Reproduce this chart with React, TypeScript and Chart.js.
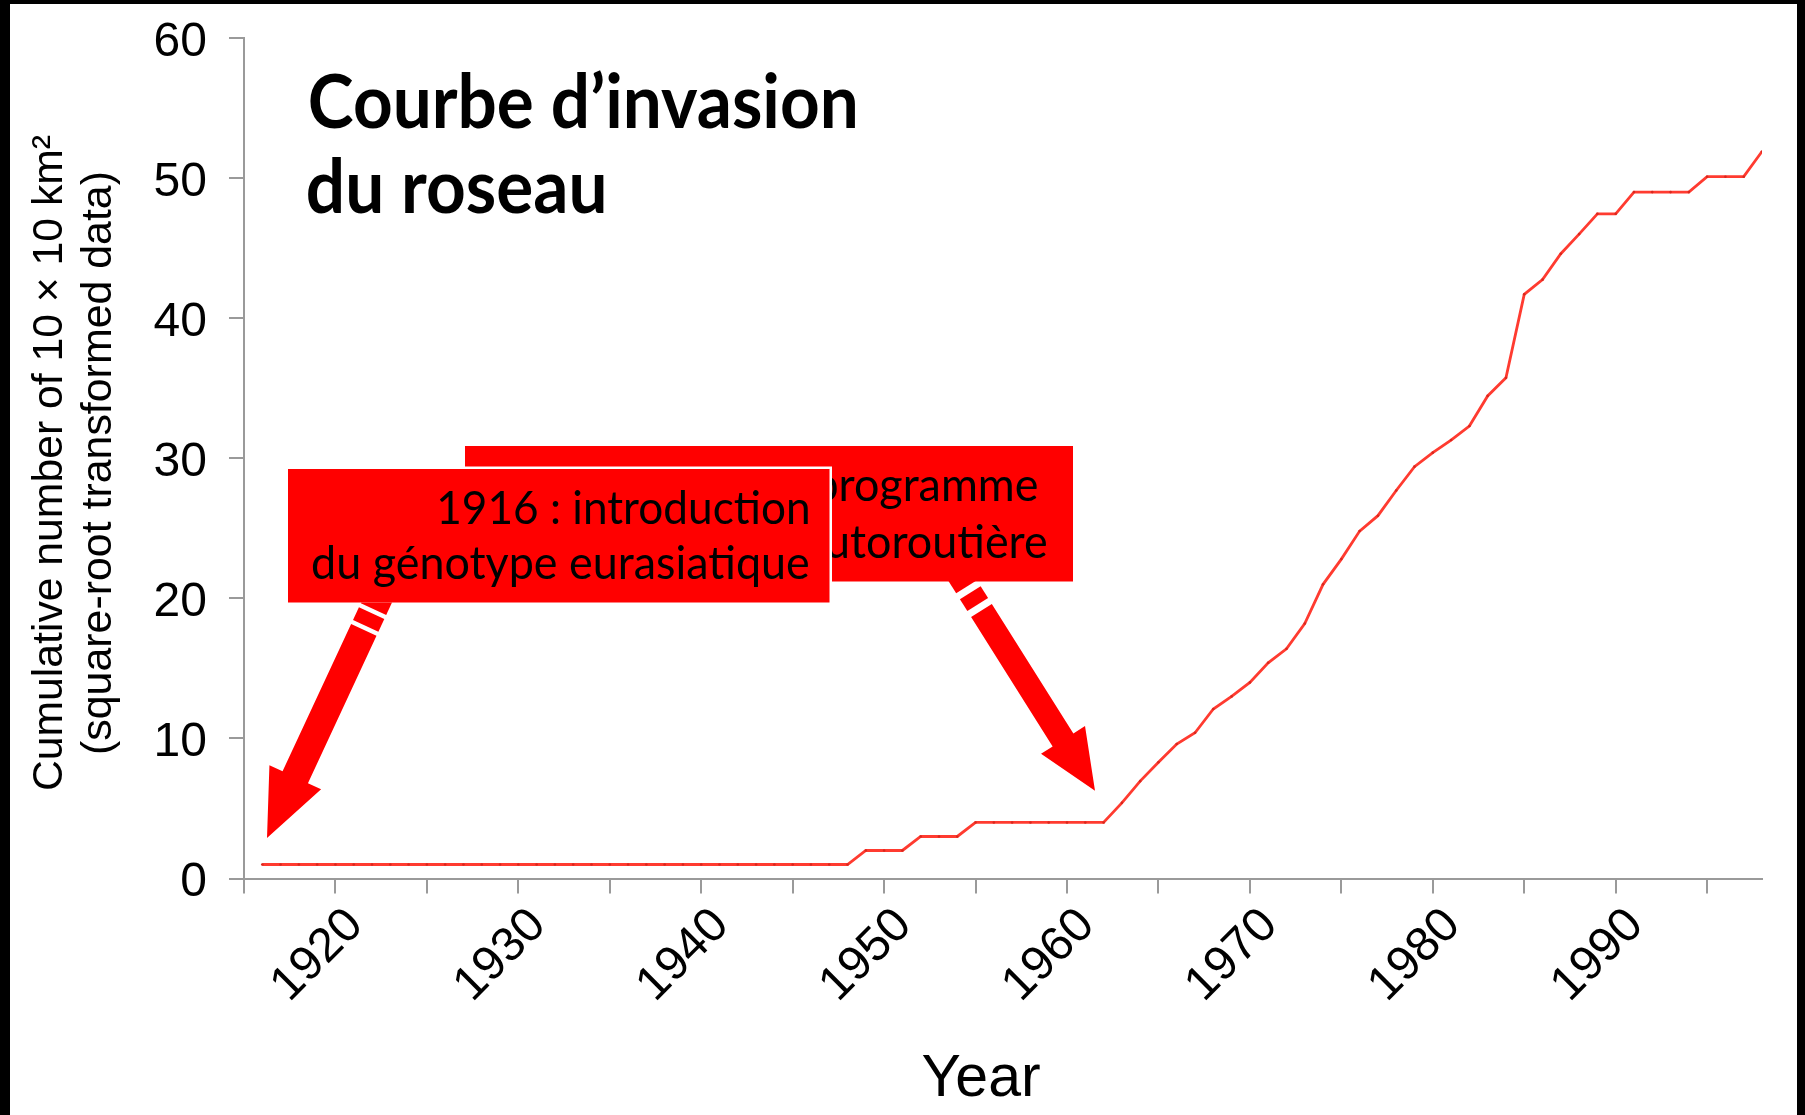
import React, { useEffect, useRef } from 'react';
import { Chart, registerables } from 'chart.js';

Chart.register(...registerables);

// ---------- data ----------
const years = [
  1916, 1917, 1918, 1919, 1920, 1921, 1922, 1923, 1924, 1925,
  1926, 1927, 1928, 1929, 1930, 1931, 1932, 1933, 1934, 1935,
  1936, 1937, 1938, 1939, 1940, 1941, 1942, 1943, 1944, 1945,
  1946, 1947, 1948, 1949, 1950, 1951, 1952, 1953, 1954, 1955,
  1956, 1957, 1958, 1959, 1960, 1961, 1962, 1963, 1964, 1965,
  1966, 1967, 1968, 1969, 1970, 1971, 1972, 1973, 1974, 1975,
  1976, 1977, 1978, 1979, 1980, 1981, 1982, 1983, 1984, 1985,
  1986, 1987, 1988, 1989, 1990, 1991, 1992, 1993, 1994, 1995,
  1996, 1997, 1998,
];

const cumulativeSqrt = [
  1, 1, 1, 1, 1, 1, 1, 1, 1, 1,
  1, 1, 1, 1, 1, 1, 1, 1, 1, 1,
  1, 1, 1, 1, 1, 1, 1, 1, 1, 1,
  1, 1, 1, 2, 2, 2, 3, 3, 3, 4,
  4, 4, 4, 4, 4, 4, 4, 5.4, 6.95, 8.3,
  9.6, 10.4, 12.1, 13.0, 14.0, 15.4, 16.4, 18.2, 21.0, 22.8,
  24.8, 25.9, 27.7, 29.4, 30.4, 31.3, 32.3, 34.45, 35.75, 41.7,
  42.75, 44.6, 46.0, 47.45, 47.45, 49.0, 49.0, 49.0, 49.0, 50.1,
  50.1, 50.1, 51.9,
];

const xTickLabels = ['1920', '1930', '1940', '1950', '1960', '1970', '1980', '1990'];
const yTickLabels = ['0', '10', '20', '30', '40', '50', '60'];

const titleLines = ['Courbe d\u2019invasion', 'du roseau'];
const yAxisTitle = ['Cumulative number of 10 \u00d7 10 km\u00b2', '(square-root transformed data)'];
const xAxisTitle = 'Year';
const note1916 = ['1916 : introduction', 'du g\u00e9notype eurasiatique'];
const note1962 = ['1962 : d\u00e9but du programme', 'de construction autorouti\u00e8re'];

// ---------- layout helpers (full-image coordinates) ----------
const OX = 10;
const OY = 4;
const ARIAL = '"Liberation Sans", Arial, Helvetica, sans-serif';
const CALIBRI = 'Lato, "Open Sans", sans-serif';

function inkFit(ctx: CanvasRenderingContext2D, text: string, font: string, left: number, right: number, baseline: number) {
  ctx.font = font;
  ctx.textAlign = 'left';
  ctx.textBaseline = 'alphabetic';
  const m = ctx.measureText(text);
  const inkL = -m.actualBoundingBoxLeft;
  const inkR = m.actualBoundingBoxRight;
  const s = (right - left) / (inkR - inkL);
  ctx.save();
  ctx.translate(left - inkL * s, baseline);
  ctx.scale(s, 1);
  ctx.fillText(text, 0, 0);
  ctx.restore();
  return s;
}

function inkRight(ctx: CanvasRenderingContext2D, text: string, font: string, right: number, baseline: number, s: number) {
  ctx.font = font;
  ctx.textAlign = 'left';
  ctx.textBaseline = 'alphabetic';
  const m = ctx.measureText(text);
  const inkR = m.actualBoundingBoxRight;
  ctx.save();
  ctx.translate(right - inkR * s, baseline);
  ctx.scale(s, 1);
  ctx.fillText(text, 0, 0);
  ctx.restore();
}

// centred text drawn along the current x direction, squeezed/stretched to a given length
function centredFit(ctx: CanvasRenderingContext2D, text: string, font: string, length: number, y: number) {
  ctx.font = font;
  ctx.textAlign = 'center';
  ctx.textBaseline = 'alphabetic';
  const w = ctx.measureText(text).width;
  const s = length / w;
  ctx.save();
  ctx.scale(s, 1);
  ctx.fillText(text, 0, y);
  ctx.restore();
}

function stripedArrow(
  ctx: CanvasRenderingContext2D,
  tip: [number, number],
  dir: [number, number],
  shaftW: number,
  headW: number,
  headL: number,
  mainLen: number,
  segs: [number, number][],
) {
  const len = Math.hypot(dir[0], dir[1]);
  const ux = dir[0] / len;
  const uy = dir[1] / len;
  const nx = -uy;
  const ny = ux;
  const at = (d: number, w: number): [number, number] => [tip[0] - ux * d + nx * w, tip[1] - uy * d + ny * w];
  ctx.fillStyle = '#ff0000';
  const pts = [
    at(0, 0),
    at(headL, headW / 2),
    at(headL, shaftW / 2),
    at(mainLen, shaftW / 2),
    at(mainLen, -shaftW / 2),
    at(headL, -shaftW / 2),
    at(headL, -headW / 2),
  ];
  ctx.beginPath();
  pts.forEach((p, i) => (i === 0 ? ctx.moveTo(p[0], p[1]) : ctx.lineTo(p[0], p[1])));
  ctx.closePath();
  ctx.fill();
  segs.forEach(([d0, d1]) => {
    const q = [at(d0, shaftW / 2), at(d1, shaftW / 2), at(d1, -shaftW / 2), at(d0, -shaftW / 2)];
    ctx.beginPath();
    q.forEach((p, i) => (i === 0 ? ctx.moveTo(p[0], p[1]) : ctx.lineTo(p[0], p[1])));
    ctx.closePath();
    ctx.fill();
  });
}

const annotationPlugin = {
  id: 'slideAnnotations',
  afterDraw(chart: any) {
    const ctx: CanvasRenderingContext2D = chart.ctx;
    ctx.save();
    ctx.translate(-OX, -OY);

    // title
    ctx.fillStyle = '#000';
    inkFit(ctx, titleLines[0], `bold 74px ${CALIBRI}`, 309.7, 855.3, 128.3);
    inkFit(ctx, titleLines[1], `bold 74px ${CALIBRI}`, 307.7, 604, 213);

    // y axis title (rotated)
    ctx.fillStyle = '#000';
    ctx.save();
    ctx.translate(0, 463);
    ctx.rotate(-Math.PI / 2);
    centredFit(ctx, yAxisTitle[0], `42px ${ARIAL}`, 656, 62);
    centredFit(ctx, yAxisTitle[1], `42px ${ARIAL}`, 584, 111);
    ctx.restore();

    // x axis title
    ctx.font = `59px ${ARIAL}`;
    ctx.textAlign = 'center';
    ctx.textBaseline = 'alphabetic';
    ctx.fillText(xAxisTitle, 981, 1096);

    // arrows
    stripedArrow(ctx, [1095, 790.7], [0.533, 0.846], 24.5, 52, 60, 213, [[220, 234], [241, 262]]);
    stripedArrow(ctx, [267, 838], [-0.422, 0.907], 28, 57, 67, 229.5, [[234, 248], [252.5, 275]]);

    // back box (1962)
    ctx.fillStyle = '#ff0000';
    ctx.fillRect(465, 446, 608, 135.5);

    // front box (1916) with white outline (top/sides)
    ctx.fillStyle = '#ffffff';
    ctx.fillRect(285.5, 466.5, 546.5, 136);
    ctx.fillStyle = '#ff0000';
    ctx.fillRect(288, 469, 541.5, 133.5);

    // front box text
    ctx.fillStyle = '#000';
    const boxFont = `47px ${CALIBRI}`;
    inkFit(ctx, note1916[0], boxFont, 439, 808.6, 524);
    const s2 = inkFit(ctx, note1916[1], boxFont, 313, 808, 579);

    // back box text, only where the back box is not covered by the front box
    ctx.save();
    ctx.beginPath();
    ctx.rect(465, 446, 608, 135.5);
    ctx.clip();
    ctx.beginPath();
    ctx.rect(832, 446, 300, 140);
    ctx.rect(465, 446, 370, 20.5);
    ctx.clip();
    ctx.fillStyle = '#000';
    inkRight(ctx, note1962[0], boxFont, 1036.7, 501, s2);
    inkRight(ctx, note1962[1], boxFont, 1046, 558, s2);
    ctx.restore();

    ctx.restore();
  },
};

const gridStyle = {
  display: true,
  drawOnChartArea: false,
  drawTicks: true,
  tickLength: 15,
  color: '#9a9a9a',
  lineWidth: 2,
};

const borderStyle = { display: true, color: '#9a9a9a', width: 2 };

export default function App() {
  const ref = useRef<HTMLCanvasElement | null>(null);

  useEffect(() => {
    document.body.style.margin = '0';
    const canvas = ref.current;
    if (!canvas) return;
    const chart = new Chart(canvas, {
      type: 'line',
      data: {
        datasets: [
          {
            data: years.map((x, i) => ({ x, y: cumulativeSqrt[i] })),
            borderColor: '#ff3b30',
            borderWidth: 2.8,
            pointRadius: 1.3,
            pointBackgroundColor: '#d8281e',
            pointBorderWidth: 0,
            pointHoverRadius: 0,
            tension: 0,
            fill: false,
          },
        ],
      },
      options: {
        animation: false,
        responsive: false,
        devicePixelRatio: 1,
        events: [],
        layout: { padding: { left: 0, right: 35, top: 34, bottom: 0 } },
        plugins: {
          legend: { display: false },
          tooltip: { enabled: false },
          title: { display: false },
        },
        scales: {
          x: {
            type: 'linear',
            min: 1915,
            max: 1998,
            afterFit: (s: any) => {
              s.height = 236.5;
              s.paddingLeft = 0;
              s.paddingRight = 0;
            },
            border: borderStyle,
            grid: gridStyle,
            ticks: {
              stepSize: 5,
              includeBounds: false,
              autoSkip: false,
              minRotation: 45,
              maxRotation: 45,
              padding: 4,
              labelOffset: 20,
              color: '#000',
              font: { family: ARIAL, size: 48 },
              callback: (v: any) => (xTickLabels.includes(String(v)) ? String(v) : ''),
            },
          },
          y: {
            type: 'linear',
            min: 0,
            max: 60,
            afterFit: (s: any) => {
              s.width = 234;
              s.paddingTop = 0;
              s.paddingBottom = 0;
            },
            border: borderStyle,
            grid: gridStyle,
            ticks: {
              stepSize: 10,
              padding: 22,
              labelOffset: 4.5,
              color: '#000',
              font: { family: ARIAL, size: 48 },
              callback: (v: any) => (yTickLabels.includes(String(v)) ? String(v) : ''),
            },
          },
        },
      },
      plugins: [annotationPlugin],
    } as any);
    return () => chart.destroy();
  }, []);

  return (
    <div
      style={{
        position: 'fixed',
        left: 0,
        top: 0,
        width: 1805,
        height: 1115,
        background: '#000',
        overflow: 'hidden',
      }}
    >
      <div style={{ position: 'absolute', left: OX, top: OY, width: 1787, height: 1111, background: '#fff' }}>
        <canvas ref={ref} width={1787} height={1111} style={{ display: 'block', width: 1787, height: 1111 }} />
      </div>
    </div>
  );
}
